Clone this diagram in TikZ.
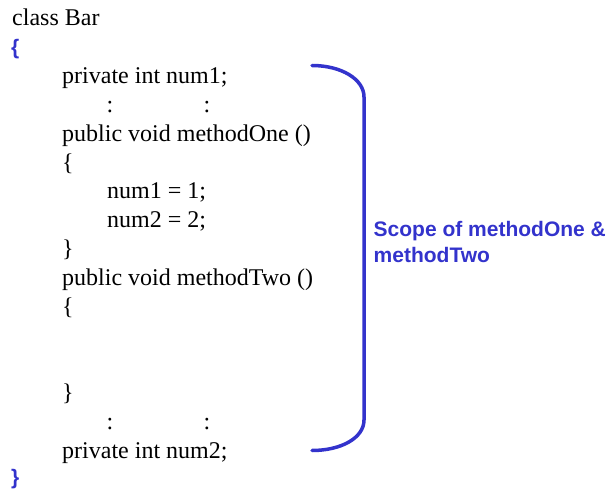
\documentclass[tikz,border=0pt]{standalone}
\usepackage{fontspec}
\setmainfont{Liberation Serif}
\newfontfamily\labelfont{Liberation Sans}
\definecolor{scopeblue}{RGB}{51,51,204}
\begin{document}
\begin{tikzpicture}[x=1pt,y=-1pt,
  code/.style={inner sep=0pt, anchor=base west, font=\fontsize{24}{28.8}\selectfont},
  dots/.style={inner sep=0pt, anchor=base, font=\fontsize{24}{28.8}\selectfont},
  classbrace/.style={inner sep=0pt, anchor=base west, text=scopeblue,
    font=\labelfont\bfseries\fontsize{21}{26}\selectfont},
  scopetext/.style={inner sep=0pt, anchor=base west, text=scopeblue,
    font=\labelfont\bfseries\fontsize{21}{26}\selectfont},
  bracket/.style={draw=scopeblue, line width=3.5pt, line cap=round}]
  \useasboundingbox (0,0) rectangle (613,492);

  % class header and outer braces
  \node[code] (cls) at (12,26) {class Bar};
  \node[classbrace] (open) at (11,54.5) {\{};
  \node[classbrace] (close) at (11,484) {\}};

  % first field
  \node[code] (fieldA) at (62,83.6) {private int num1;};
  \node[dots] (dotsA1) at (110,112.4) {:};
  \node[dots] (dotsA2) at (207,112.4) {:};

  % methodOne
  \node[code] (mOne) at (62,141.2) {public void methodOne ()};
  \node[code] (mOneOpen) at (62,170) {\{};
  \node[code] (asgA) at (107,198.8) {num1 = 1;};
  \node[code] (asgB) at (107,227.6) {num2 = 2;};
  \node[code] (mOneClose) at (62,256.4) {\}};

  % methodTwo
  \node[code] (mTwo) at (62,285.2) {public void methodTwo ()};
  \node[code] (mTwoOpen) at (62,314) {\{};
  \node[code] (mTwoClose) at (62,400.4) {\}};
  \node[dots] (dotsB1) at (110,429.2) {:};
  \node[dots] (dotsB2) at (207,429.2) {:};

  % second field
  \node[code] (fieldB) at (62,458) {private int num2;};

  % scope bracket
  \coordinate (bTop) at (312,65.5);
  \coordinate (bBot) at (312,450.5);
  \draw[bracket] (bTop) .. controls (341,65.5) and (364,79) .. (364,97)
    -- (364,420) .. controls (364,438) and (341,450.5) .. (bBot);

  % scope label
  \node[scopetext] (lblA) at (373.5,236) {Scope of methodOne \&};
  \node[scopetext] (lblB) at (373.5,262.5) {methodTwo};
\end{tikzpicture}
\end{document}
